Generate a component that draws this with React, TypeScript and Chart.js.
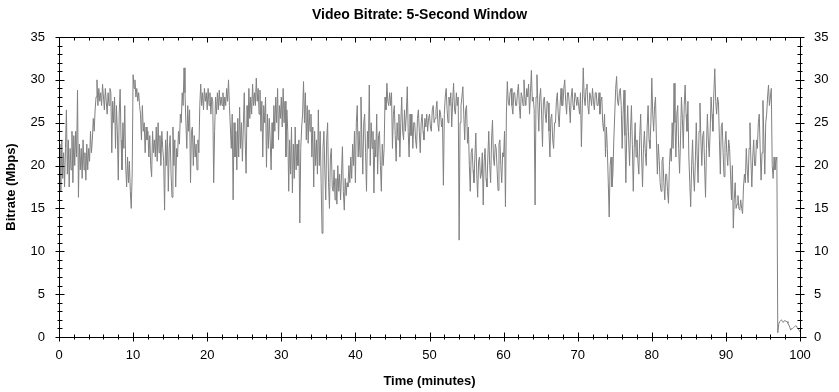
import React, { useEffect, useRef } from "react";
import { Chart, registerables } from "chart.js";

Chart.register(...registerables);

// ---- data (5-second window bitrate, sampled every 0.125 minute) ----
const SAMPLE_STEP_MIN = 0.125;
const bitrateMbps: number[] = [
  20, 22.5, 17, 23, 18.5, 21.5, 17.5, 22,
  26.5, 19, 23, 17.5, 22, 19.5, 24, 18,
  23.5, 20, 24, 21, 28.8, 16.3, 22.5, 19.5,
  22, 18.5, 23, 19.5, 21.5, 18.3, 22.5, 19.5,
  22, 20.5, 24, 21.5, 23, 25.5, 24, 26.5,
  28, 30, 27, 29, 27.5, 28.5, 27, 29.5,
  28, 26.5, 29, 27.5, 26, 28.5, 27, 29,
  28.5, 21.5, 27.5, 25, 28, 22, 27, 24,
  18.3, 26, 28.9, 23, 19.5, 25, 22, 27,
  20, 17.5, 21, 18, 20.5, 17, 15, 19,
  30.6, 29, 30, 28, 29, 27.5, 28.5, 27,
  26, 23, 27, 24, 25, 21.5, 24.5, 23,
  24, 21, 23.5, 20, 18.7, 24, 21.5, 23,
  21, 24.5, 20.5, 25, 21.5, 23.5, 20, 24,
  22, 20.5, 14.8, 23, 20, 24, 17, 22,
  23.5, 19, 16.3, 24.5, 20, 23, 17.5, 22,
  21, 24, 22.5, 26, 25, 28.5, 27, 31.4,
  28.5, 25, 22, 27, 24, 26.5, 18, 24,
  24.5, 20, 23.5, 21, 22.5, 19.5, 23, 21.5,
  27, 29.5, 27, 28.5, 26.5, 29, 27.5, 28.5,
  26.5, 29, 27, 28.5, 26, 28, 27.5, 18,
  24, 28, 26, 28.5, 26.5, 28.8, 27, 28,
  27, 28.5, 26.5, 28, 27, 29, 27.5, 30,
  27, 24.5, 22, 26, 16, 25, 21, 24,
  19.5, 25.5, 21, 26.8, 22, 25, 20.5, 24.5,
  28.5, 23, 19.1, 27, 24.5, 29, 25.5, 28,
  26, 29.5, 27, 28.5, 27, 30.2, 27.5, 29,
  26, 28.8, 24, 27.5, 21, 27, 25, 28,
  19.8, 26, 22, 25.5, 23, 19.5, 25, 22,
  27, 24, 28, 25, 29, 23, 27, 25.5,
  28, 24.5, 29, 25, 27.5, 21, 26.5, 24,
  17, 23, 19, 24.5, 16.8, 22.5, 18.5, 24.5,
  19.5, 22.5, 20, 23, 13.3, 22, 24.5, 26,
  29.8, 25, 28.5, 23, 27, 22.6, 26.5, 24,
  26, 21, 24.5, 17.5, 24, 20, 23, 19,
  26.5, 20, 24, 18, 12.1, 22, 24, 19.5,
  16, 23, 25, 18, 15, 21, 22, 17.5,
  17, 19.5, 16, 18.5, 15.5, 20, 17, 19,
  16, 19, 22.2, 17, 14.8, 18.5, 16.5, 18,
  17.5, 20, 18, 21, 18.5, 22.5, 20, 24,
  18, 25, 27, 21, 24, 21, 28, 23,
  19, 25, 26, 21.5, 17, 24, 22, 29.4,
  20, 25, 22, 24, 16.8, 23, 21, 26,
  19, 23.5, 24, 20, 17, 22.5, 20, 22,
  28, 26.5, 29.6, 27.5, 27, 28.5, 27, 28.5,
  22, 26, 27, 23.5, 20.5, 25, 23, 26,
  21, 25, 28, 24, 23, 26.5, 24, 26,
  29.2, 24, 21, 26, 23.5, 26, 22, 25,
  25, 23, 22, 25.5, 26.5, 24, 21.5, 25,
  26, 24, 23, 25.5, 24.5, 26, 24, 25.5,
  26, 24.5, 24, 26.5, 27, 25, 25.5, 26.5,
  27.5, 25, 24, 26.5, 26, 24.5, 25.5, 17.7,
  26, 28, 29, 26.5, 25, 28, 27, 28.5,
  24.5, 27.5, 29.6, 26.5, 26, 28.5, 27, 28,
  11.3, 25, 27, 28, 29.2, 26, 23, 26.5,
  27, 22.6, 24.5, 20, 17, 21.5, 22, 19.5,
  18, 21, 23.8, 19, 16.3, 20.5, 21, 18.5,
  19, 21.5, 15.4, 20.5, 22, 18.5, 17.5, 21,
  24, 20, 18, 23, 25.3, 21, 20, 22.5,
  22, 19.5, 17.1, 22.5, 23, 20, 18, 21.5,
  21, 24, 15.2, 26, 29.8, 27.5, 27, 28.5,
  29, 27, 26, 28.5, 28.5, 27, 27, 28.5,
  29.5, 27, 25.5, 28.5, 28, 27, 30, 28,
  27, 29, 28, 29.5, 26, 28.5, 31.1, 27.5,
  28, 26.5, 15.4, 28, 30.6, 27, 24, 28,
  29, 26, 22.2, 27.5, 28, 26, 25, 27.5,
  27.3, 24, 21, 25.5, 26, 23, 22, 25,
  25, 27.5, 28.5, 26, 24.5, 27, 29, 27,
  27, 29, 30, 27.5, 26, 28.5, 28.5, 27,
  25, 28, 29, 27, 26.5, 28.5, 28, 27,
  28, 27, 26, 28.5, 22.2, 27, 31.4, 28,
  27, 29, 29.5, 27, 26, 28.5, 28, 27,
  29, 27.5, 26.5, 28.5, 28.5, 27, 27, 28.5,
  26, 27.5, 28, 25, 24, 26, 21, 24.5,
  22, 18, 14, 20, 21, 17.5, 19, 23,
  26, 29, 30.4, 27.5, 27, 28.5, 29, 27,
  22, 26, 28.8, 23.5, 18, 24, 27, 23,
  20, 24, 27, 22.5, 17, 22, 25, 21,
  23, 20.5, 19, 23.5, 26, 21, 17.5, 22,
  24, 21.5, 20, 24.5, 27, 23, 22, 25,
  30.2, 26, 24, 27, 28, 23, 19, 22.5,
  20.6, 18, 17, 20.5, 21, 18, 16, 19,
  19, 17, 15.6, 20, 22, 20.5, 25, 22,
  29.6, 25, 21, 26, 27, 22, 19.1, 23,
  28, 25.5, 22, 27, 29.4, 26, 24, 27.5,
  21, 18, 15.2, 20, 23, 19, 17, 20.5,
  25, 21, 18, 24, 27.3, 23, 20, 23.5,
  24, 20, 16.3, 22, 26, 23, 21, 24,
  28, 26, 24, 28.5, 31.3, 27.5, 26, 28,
  27.3, 23, 19, 24.5, 25, 21.5, 18.7, 22.5,
  24, 21.5, 20, 23, 22, 19, 16, 20,
  12.7, 16, 18, 15, 15.5, 16.5, 15, 14.8,
  16, 15, 14.4, 17.5, 19, 18, 22, 19.5,
  18, 22, 25, 20.5, 17.5, 21, 23, 20,
  20, 23, 22, 25, 26, 22, 18.3, 21.5,
  27.6, 23, 19, 25, 26, 28, 29.4, 27,
  28, 29, 20, 18.5, 21, 19.5, 20.5, 21,
  0.5, 1.5, 1.8, 1.9, 2.0, 1.8, 1.7, 1.9,
  1.9, 1.8, 1.8, 1.6, 1.4, 1.1, 0.8, 1.0,
  1.0, 1.1, 1.2, 1.3, 1.3, 1.1, 0.9, 0.8,
  0.6,
];

const X_MIN = 0;
const X_MAX = 100;
const X_MAJOR = 10;
const X_MINOR = 2;
const Y_MIN = 0;
const Y_MAX = 35;
const Y_MAJOR = 5;
const Y_MINOR = 1;

const TITLE = "Video Bitrate: 5-Second Window";
const X_TITLE = "Time (minutes)";
const Y_TITLE = "Bitrate (Mbps)";

const FONT = "Arial, 'Liberation Sans', Helvetica, sans-serif";

const frameTicks = {
  id: "frameTicks",
  afterDatasetsDraw(chart: any) {
    const { ctx, chartArea, scales } = chart;
    const xs = scales.x;
    const ys = scales.y;
    const L = Math.round(chartArea.left) + 0.5;
    const R = Math.round(chartArea.right) + 0.5;
    const T = Math.round(chartArea.top) + 0.5;
    const B = Math.round(chartArea.bottom) + 0.5;
    ctx.save();
    ctx.strokeStyle = "#000";
    ctx.lineWidth = 1;
    ctx.beginPath();
    ctx.rect(L, T, R - L, B - T);
    ctx.moveTo(R, B);
    ctx.lineTo(R + 6, B);
    for (let v = X_MIN; v <= X_MAX + 1e-9; v += X_MINOR) {
      const major = Math.abs(v % X_MAJOR) < 1e-9;
      const px = Math.round(xs.getPixelForValue(v)) + 0.5;
      const inn = major ? 5 : 3;
      const out = major ? 4 : 2;
      ctx.moveTo(px, B - inn);
      ctx.lineTo(px, B + out);
      ctx.moveTo(px, T);
      ctx.lineTo(px, T + inn);
    }
    for (let v = Y_MIN; v <= Y_MAX + 1e-9; v += Y_MINOR) {
      const major = Math.abs(v % Y_MAJOR) < 1e-9;
      const py = Math.round(ys.getPixelForValue(v)) + 0.5;
      const inn = major ? 5 : 3;
      const out = major ? 4 : 2;
      ctx.moveTo(L - out, py);
      ctx.lineTo(L + inn, py);
      ctx.moveTo(R - inn, py);
      ctx.lineTo(R + out, py);
    }
    ctx.stroke();
    ctx.restore();
  },
};

export default function App() {
  const canvasRef = useRef<HTMLCanvasElement | null>(null);

  useEffect(() => {
    document.body.style.margin = "0";
    const canvas = canvasRef.current;
    if (!canvas) return;
    const points = bitrateMbps.map((v, i) => ({ x: i * SAMPLE_STEP_MIN, y: v }));
    const tickFont = { family: FONT, size: 13 };
    const titleFont = { family: FONT, size: 13, weight: "bold" as const };
    const chart = new Chart(canvas, {
      type: "line",
      data: {
        datasets: [
          {
            data: points,
            borderColor: "#808080",
            borderWidth: 1,
            pointRadius: 0,
            fill: false,
            tension: 0,
          },
        ],
      },
      options: {
        responsive: false,
        animation: false,
        devicePixelRatio: 1,
        layout: { padding: 0 },
        plugins: {
          legend: { display: false },
          tooltip: { enabled: false },
          title: {
            display: true,
            text: TITLE,
            color: "#000",
            font: { family: FONT, size: 14, weight: "bold" },
            padding: { top: 7, bottom: 13.2 },
          },
        },
        scales: {
          x: {
            type: "linear",
            position: "bottom",
            min: X_MIN,
            max: X_MAX,
            ticks: {
              stepSize: X_MAJOR,
              color: "#000",
              font: tickFont,
              padding: 11,
              maxRotation: 0,
              autoSkip: false,
            },
            grid: { display: false, drawTicks: false },
            border: { display: false },
            title: {
              display: true,
              text: X_TITLE,
              color: "#000",
              font: titleFont,
              padding: { top: 0, bottom: 3 },
            },
            afterFit: (s: any) => {
              s.height = 55;
            },
          },
          y: {
            type: "linear",
            position: "left",
            min: Y_MIN,
            max: Y_MAX,
            ticks: { stepSize: Y_MAJOR, color: "#000", font: tickFont, padding: 14 },
            grid: { display: false, drawTicks: false },
            border: { display: false },
            title: {
              display: true,
              text: Y_TITLE,
              color: "#000",
              font: titleFont,
              padding: { top: 4, bottom: 0 },
            },
            afterFit: (s: any) => {
              s.width = 59;
            },
          },
          y2: {
            type: "linear",
            position: "right",
            min: Y_MIN,
            max: Y_MAX,
            ticks: { stepSize: Y_MAJOR, color: "#000", font: tickFont, padding: 14 },
            grid: { display: false, drawTicks: false },
            border: { display: false },
            afterFit: (s: any) => {
              s.width = 39;
            },
          },
        },
      },
      plugins: [frameTicks],
    });
    return () => chart.destroy();
  }, []);

  return (
    <div style={{ width: 839, height: 392 }}>
      <canvas ref={canvasRef} width={839} height={392} style={{ display: "block" }} />
    </div>
  );
}
